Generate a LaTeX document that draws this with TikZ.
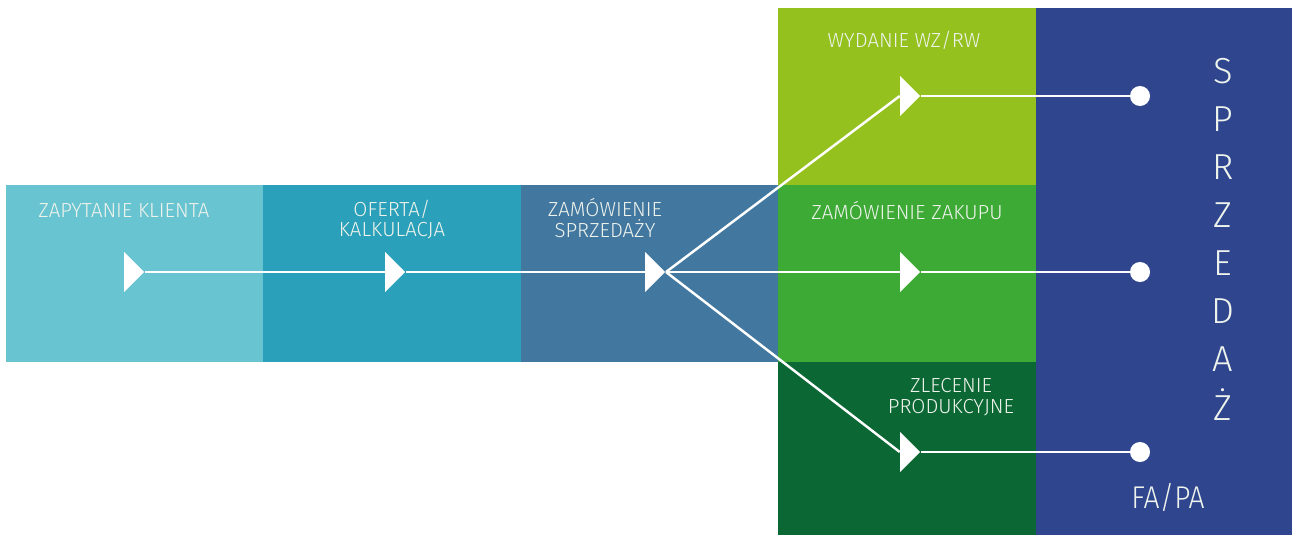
\documentclass[tikz,border=0pt]{standalone}
\usepackage{fontspec}
\setmainfont{Fira Sans Light}
\newfontfamily\narrowfont{Fira Sans Light}[FakeStretch=0.9]
\usetikzlibrary{
    shapes.geometric,
    positioning
}
\definecolor{inquiry}{HTML}{69C4D1}
\definecolor{offer}{HTML}{2BA0BA}
\definecolor{salesorder}{HTML}{4277A0}
\definecolor{issue}{HTML}{95C11F}
\definecolor{purchase}{HTML}{3DAA35}
\definecolor{production}{HTML}{0B6733}
\definecolor{sales}{HTML}{2F468F}
\definecolor{lbltext}{HTML}{EEF3EC}

\tikzset{
    tri/.style={isosceles triangle, isosceles triangle stretches, shape border rotate=0,
        minimum width=0.8cm, minimum height=0.4cm, inner sep=0pt, fill=white},
    enddot/.style={circle, fill=white, minimum size=0.4cm, inner sep=0pt},
    lbl/.style={text=lbltext, font=\fontsize{11.6}{11.8}\selectfont, align=center, inner sep=0pt},
    biglbl/.style={text=lbltext, font=\fontsize{20.6}{24}\selectfont, inner sep=0pt},
    link/.style={draw=white, line width=1.6pt}
}

\begin{document}
\begin{tikzpicture}[x=0.02cm, y=-0.02cm]
    \useasboundingbox (0, 0) rectangle (1292, 535);
    % boxes
    \fill[inquiry] (6, 185) rectangle (263, 362);
    \fill[offer] (263, 185) rectangle (521, 362);
    \fill[salesorder] (521, 185) rectangle (778, 362);
    \fill[issue] (778, 8) rectangle (1036, 185);
    \fill[purchase] (778, 185) rectangle (1036, 362);
    \fill[production] (778, 362) rectangle (1036, 535);
    \fill[sales] (1036, 8) rectangle (1292, 535);

    % labels
    \node[lbl, anchor=base west] (zap) at (38, 217) {ZAPYTANIE KLIENTA};
    \node[lbl] (ofe) at (392, 219.5) {OFERTA/\\KALKULACJA};
    \node[lbl] (zsp) at (605, 218) {ZAMÓWIENIE\\SPRZEDAŻY};
    \node[lbl] (wyd) at (904, 40) {WYDANIE WZ/RW};
    \node[lbl] (zza) at (907, 211) {ZAMÓWIENIE ZAKUPU};
    \node[lbl] (zle) at (951, 397) {ZLECENIE\\PRODUKCYJNE};
    \node[biglbl, font=\fontsize{17.9}{20}\narrowfont] (fapa) at (1168, 497) {FA/PA};
    \foreach \ch [count=\i] in {S,P,R,Z,E,D,A,Ż}
        \node[biglbl, anchor=base] (s\i) at (1223, {83.3+48.1*(\i-1)}) {\ch};

    % triangles and end dots
    \node[tri, anchor=apex] (t1) at (145, 272) {};
    \node[tri, anchor=apex] (t2) at (406, 272) {};
    \node[tri, anchor=apex] (t3) at (666, 272) {};
    \node[tri, anchor=apex] (t4) at (921, 96) {};
    \node[tri, anchor=apex] (t5) at (921, 272) {};
    \node[tri, anchor=apex] (t6) at (921, 452) {};
    \node[enddot] (d4) at (1140, 96) {};
    \node[enddot] (d5) at (1140, 272) {};
    \node[enddot] (d6) at (1140, 452) {};

    % links
    \draw[link] (t1.apex) -- (t2.west);
    \draw[link] (t2.apex) -- (t3.west);
    \draw[link] (t3.apex) -- (t5.west);
    \draw[link, line width=1.4pt] (t3.apex) -- (t4.west);
    \draw[link, line width=1.4pt] (t3.apex) -- (t6.west);
    \draw[link, line width=1.4pt] (t4.apex) -- (d4);
    \draw[link] (t5.apex) -- (d5);
    \draw[link, line width=1.4pt] (t6.apex) -- (d6);
\end{tikzpicture}
\end{document}
